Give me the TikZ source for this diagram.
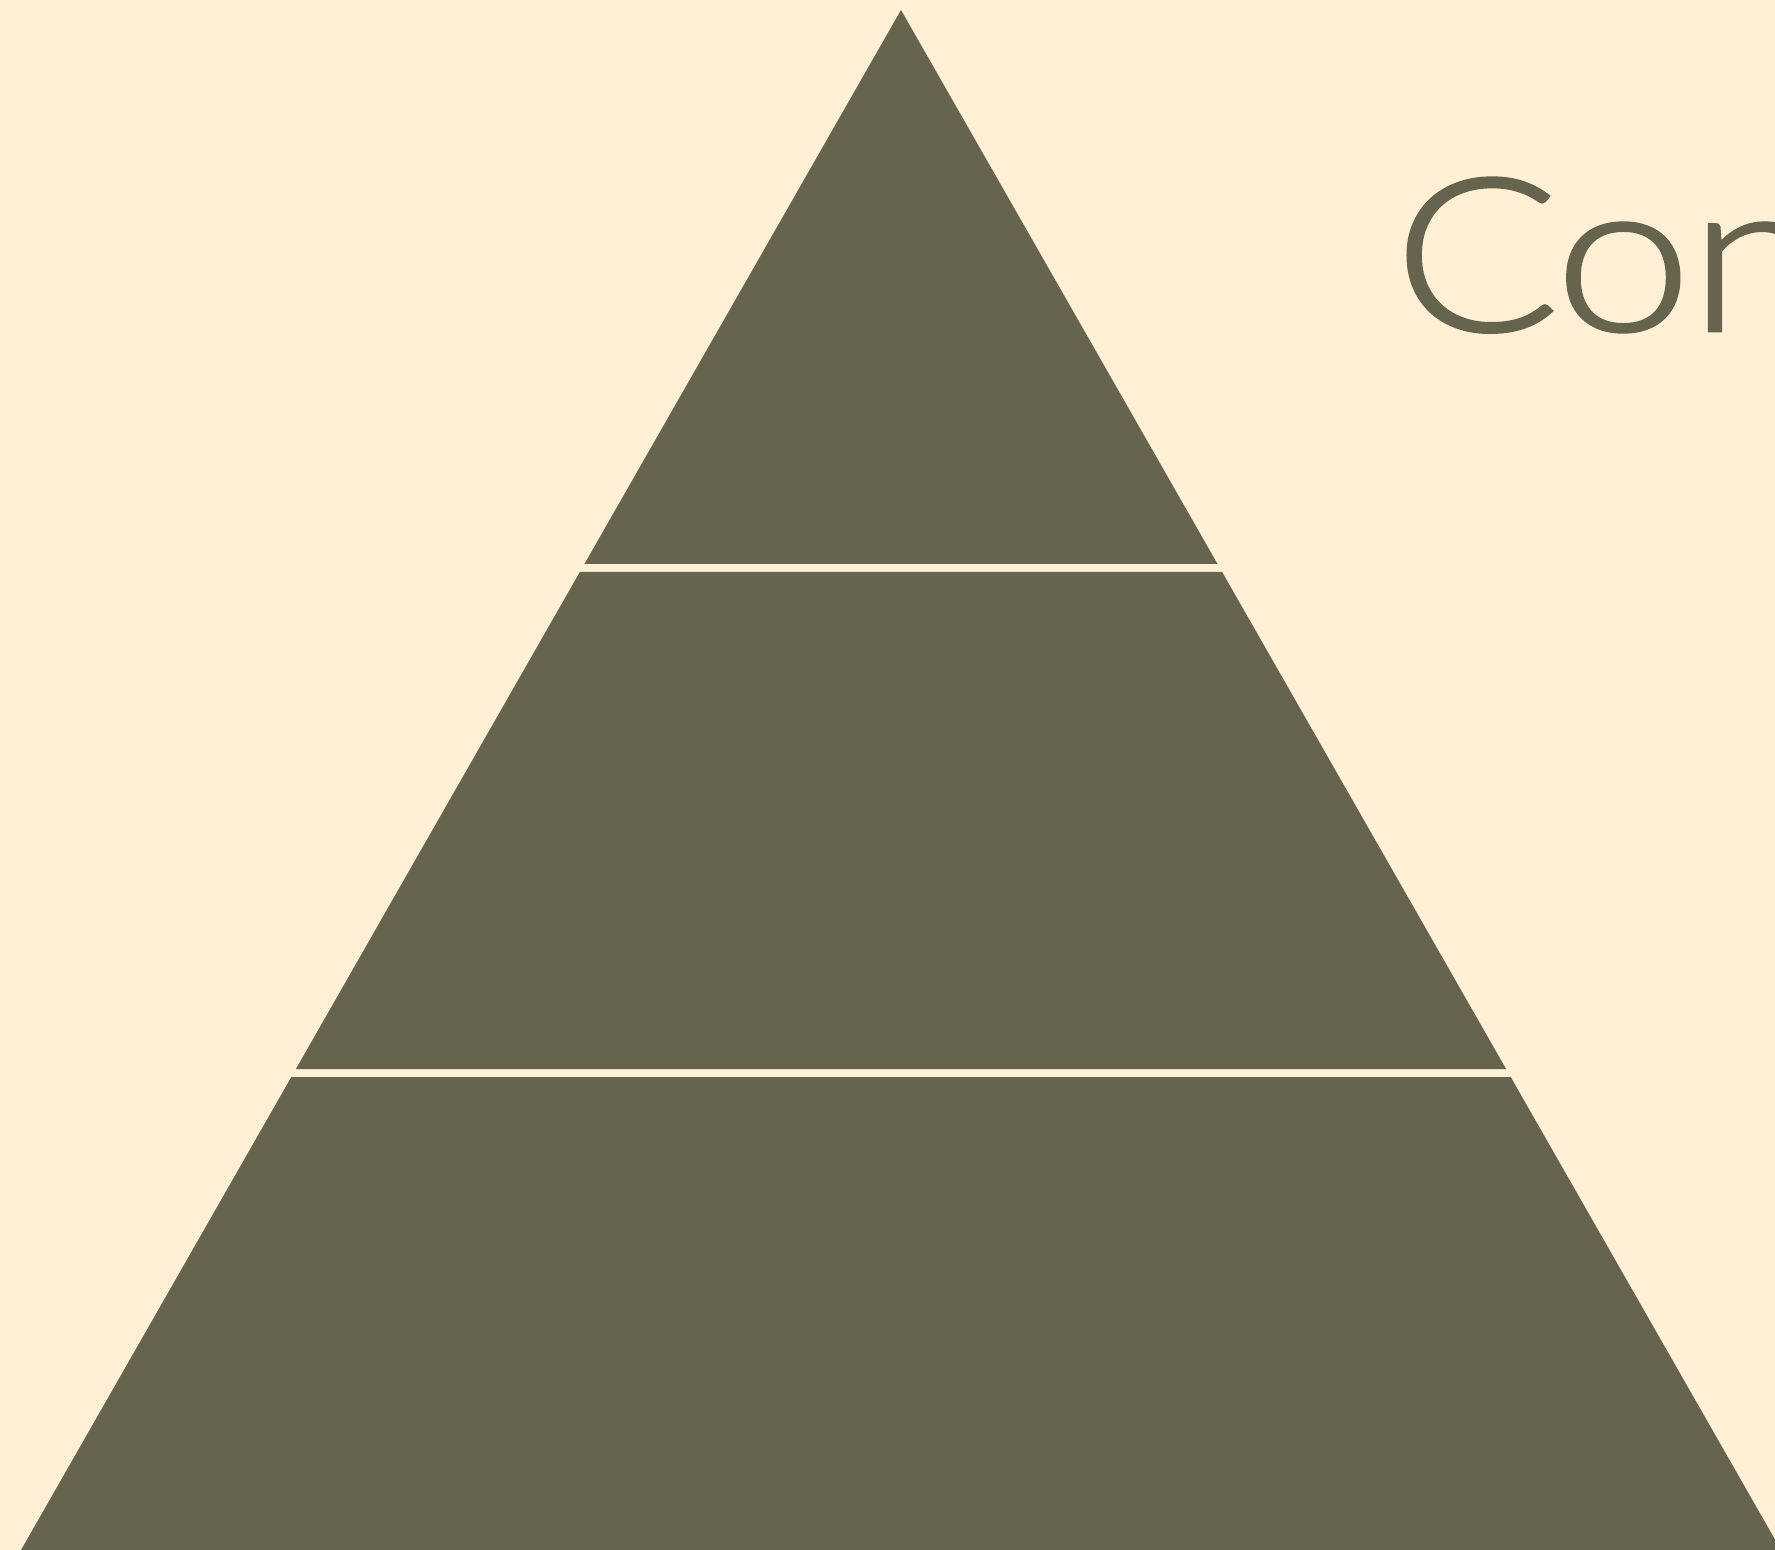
\documentclass[tikz,border=0pt]{standalone}
\usepackage{fontspec}
\newfontfamily\headfont{Lato}[UprightFont=* Light, FakeStretch=1.15, FakeBold=1.2, LetterSpace=-1.5]
\definecolor{paper}{RGB}{255,239,213}
\definecolor{olive}{RGB}{102,100,78}

\begin{document}
\begin{tikzpicture}[
    x=0.02cm, y=-0.02cm,
    tier/.style={fill=olive, draw=none},
    headline/.style={anchor=base west, inner sep=0pt, text=olive,
                     font=\headfont\fontsize{122}{130}\selectfont}
]
    \fill[paper] (0,0) rectangle (1775,1550);
    \useasboundingbox (0,0) rectangle (1775,1550);

    % top tier (apex at 901,10; side slope 0.5714)
    \fill[tier] (901,10) -- ({901-0.5714*554},564) -- ({901+0.5714*554},564) -- cycle;
    % middle and bottom tiers
    \foreach \ya/\yb in {572/1069, 1077/1550}{
        \fill[tier] ({901-0.5714*(\ya-10)},\ya) -- ({901+0.5714*(\ya-10)},\ya)
            -- ({901+0.5714*(\yb-10)},\yb) -- ({901-0.5714*(\yb-10)},\yb) -- cycle;
    }

    \node[headline] (title) at (1393,331) {Con};
\end{tikzpicture}
\end{document}
